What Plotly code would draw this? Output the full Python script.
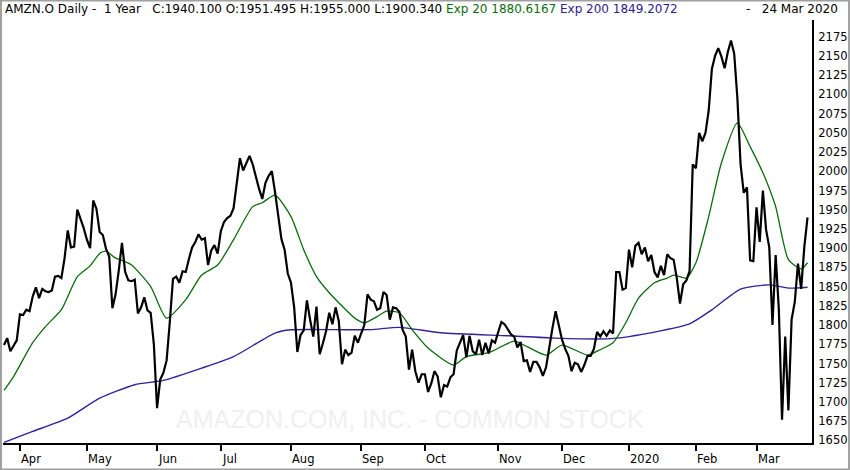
import plotly.graph_objects as go

# ---- data ----
close_mar19 = [1774, 1783, 1766, 1773, 1780]
close_apr = [1814, 1813, 1820, 1818, 1837, 1849, 1835, 1847, 1844, 1843, 1845, 1863, 1864, 1861, 1887, 1923, 1901, 1902, 1950, 1938, 1926]
close_may = [1911, 1900, 1962, 1951, 1921, 1917, 1899, 1889, 1822, 1840, 1871, 1907, 1869, 1858, 1857, 1859, 1815, 1823, 1836, 1819, 1816, 1775]
close_jun = [1692, 1729, 1738, 1754, 1804, 1860, 1863, 1855, 1870, 1869, 1886, 1901, 1908, 1918, 1911, 1913, 1878, 1897, 1904, 1893]
close_jul = [1922, 1934, 1939, 1942, 1952, 1988, 2017, 2001, 2011, 2020, 2009, 1992, 1977, 1964, 1985, 1994, 2000, 1973, 1943, 1912, 1898, 1867]
close_aug = [1855, 1823, 1765, 1787, 1793, 1832, 1807, 1785, 1824, 1762, 1776, 1792, 1816, 1801, 1823, 1805, 1749, 1768, 1761, 1764, 1786, 1777]
close_sep = [1789, 1800, 1840, 1833, 1831, 1820, 1822, 1843, 1839, 1807, 1823, 1822, 1817, 1794, 1785, 1742, 1768, 1740, 1725, 1736]
close_oct = [1736, 1713, 1724, 1740, 1733, 1706, 1722, 1720, 1732, 1736, 1767, 1777, 1787, 1758, 1786, 1766, 1762, 1781, 1761, 1777, 1763, 1780, 1777]
close_nov = [1791, 1804, 1801, 1795, 1788, 1785, 1771, 1778, 1753, 1754, 1739, 1752, 1752, 1745, 1734, 1745, 1773, 1796, 1818, 1800]
close_dec = [1781, 1769, 1760, 1740, 1751, 1749, 1739, 1748, 1760, 1760, 1769, 1791, 1785, 1792, 1786, 1793, 1789, 1869, 1869, 1846, 1848]
close_jan = [1898, 1875, 1903, 1907, 1892, 1901, 1883, 1891, 1869, 1862, 1877, 1865, 1892, 1887, 1885, 1861, 1828, 1853, 1858, 1870, 2009]
close_feb = [2004, 2050, 2039, 2050, 2079, 2133, 2150, 2160, 2149, 2134, 2155, 2170, 2153, 2095, 2009, 1972, 1979, 1884, 1883]
close_mar20 = [1953, 1908, 1975, 1924, 1901, 1800, 1891, 1820, 1677, 1785, 1689, 1807, 1830, 1880, 1847, 1902, 1940]

close = (close_mar19 + close_apr + close_may + close_jun + close_jul + close_aug + close_sep
         + close_oct + close_nov + close_dec + close_jan + close_feb + close_mar20)
day = list(range(len(close)))  # trading-day index

ema20_day = [0, 3, 9, 13, 18, 23, 27, 30, 32, 35, 37, 40, 46, 51, 57, 62, 67, 72, 78, 81, 85, 90, 94, 98,
             102, 105, 110, 113, 117, 120, 124, 128, 133, 141, 145, 152, 160, 164, 170, 175, 183, 187,
             191, 195, 199, 204, 208, 210, 214, 217, 221, 225, 230, 234, 238, 242, 246, 250, 252]
ema20_val = [1715, 1733, 1777, 1798, 1820, 1863, 1877, 1893, 1896, 1887, 1884, 1878, 1850, 1809, 1833, 1865,
             1878, 1911, 1954, 1959, 1969, 1941, 1898, 1863, 1842, 1829, 1809, 1803, 1811, 1818, 1816, 1794,
             1770, 1748, 1759, 1764, 1779, 1772, 1761, 1774, 1761, 1768, 1777, 1803, 1835, 1855, 1861, 1865,
             1861, 1881, 1941, 2011, 2063, 2032, 1998, 1954, 1885, 1873, 1881]

ema200_day = [0, 9, 20, 30, 41, 50, 62, 72, 85, 90, 104, 115, 124, 137, 158, 173, 189, 196, 199, 215, 222,
              231, 240, 246, 252]
ema200_val = [1647.4, 1661.7, 1679, 1705, 1722.4, 1728, 1744, 1759, 1789.6, 1793.8, 1794, 1794, 1797, 1790,
              1786, 1783, 1782, 1785, 1787, 1801.6, 1819.8, 1846.7, 1852.3, 1848, 1849.2]

month_day = [5, 26, 48, 68, 90, 112, 132, 155, 175, 196, 217, 236]
month_text = ["Apr", "May", "Jun", "Jul", "Aug", "Sep", "Oct", "Nov", "Dec", "2020", "Feb", "Mar"]

header = ("AMZN.O Daily -&nbsp; 1 Year &nbsp; C:1940.100 O:1951.495 H:1955.000 L:1900.340 "
          "<span style='color:#0a6e0a'>Exp 20 1880.6167</span> "
          "<span style='color:#2e1c8c'>Exp 200 1849.2072</span>")
date_text = "-&nbsp;&nbsp; 24 Mar 2020"
watermark = "AMAZON.COM, INC. - COMMON STOCK"

# ---- figure ----
FONT = "DejaVu Sans"
fig = go.Figure()
fig.add_trace(go.Scatter(x=ema200_day, y=ema200_val, mode="lines",
                         line=dict(color="#35209a", width=1.4, shape="spline", smoothing=0.6),
                         hoverinfo="skip"))
fig.add_trace(go.Scatter(x=ema20_day, y=ema20_val, mode="lines",
                         line=dict(color="#0b6b0b", width=1.3, shape="spline", smoothing=0.6),
                         hoverinfo="skip"))
fig.add_trace(go.Scatter(x=day, y=close, mode="lines",
                         line=dict(color="black", width=2.2)))

ann = []
ann.append(dict(text=watermark, xref="paper", yref="paper", x=0.503, y=0.057,
                xanchor="center", yanchor="middle", showarrow=False,
                font=dict(family="Liberation Sans", size=25, color="#f0f0f0")))
ann.append(dict(text=header, xref="paper", yref="paper", x=0.0, y=1.026,
                xanchor="left", yanchor="middle", showarrow=False,
                font=dict(family=FONT, size=12, color="black")))
ann.append(dict(text=date_text, xref="paper", yref="paper", x=1.0346, y=1.026,
                xanchor="right", yanchor="middle", showarrow=False,
                font=dict(family=FONT, size=12, color="black")))
for d, t in zip(month_day, month_text):
    ann.append(dict(text=t, x=d, xref="x", yref="paper", y=-0.037,
                    xanchor="left", yanchor="middle", showarrow=False, xshift=-1,
                    font=dict(family=FONT, size=11.5, color="black")))

fig.update_layout(
    width=850, height=470,
    margin=dict(l=3, r=38, t=20, b=27),
    paper_bgcolor="white", plot_bgcolor="white",
    showlegend=False,
    annotations=ann,
    shapes=[dict(type="rect", xref="paper", yref="paper",
                 x0=-0.0025, x1=1.0458, y0=-0.0626, y1=1.0461,
                 line=dict(color="#a0a0a0", width=2), layer="above")],
    xaxis=dict(range=[-0.31, 253.4], showgrid=False, zeroline=False,
               showline=True, linecolor="black", linewidth=2,
               tickmode="array", tickvals=month_day, ticks="outside",
               ticklen=6, tickwidth=2, tickcolor="black", showticklabels=False),
    yaxis=dict(side="right", range=[1646.6, 2196.7], showgrid=False, zeroline=False,
               showline=True, linecolor="black", linewidth=2,
               tickmode="linear", tick0=1650, dtick=25, ticks="",
               ticklabelstandoff=2,
               tickfont=dict(family=FONT, size=11.5, color="black")),
)

fig.write_html("out.html",
               config={"displayModeBar": False},
               post_script="document.body.style.margin='0';document.body.style.padding='0';"
                           "document.body.style.overflow='hidden';")
